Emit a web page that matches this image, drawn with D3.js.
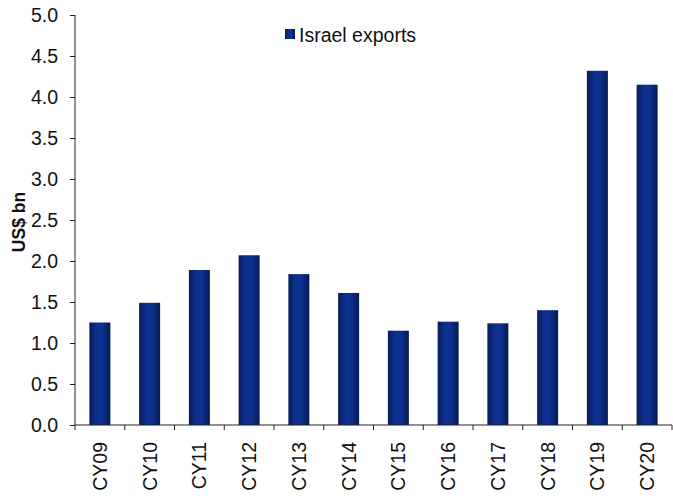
<!DOCTYPE html>
<html><head><meta charset="utf-8">
<script src="https://cdn.jsdelivr.net/npm/d3@7"></script>
<style>body{margin:0;background:#fff}svg{display:block}</style>
</head><body><svg id="c" width="673" height="498"></svg>
<script>
const categories = ["CY09","CY10","CY11","CY12","CY13","CY14","CY15","CY16","CY17","CY18","CY19","CY20"];
const exportsValues = [1.25,1.49,1.89,2.07,1.84,1.61,1.15,1.26,1.24,1.40,4.32,4.15];
const yTicks = [0,0.5,1,1.5,2,2.5,3,3.5,4,4.5,5];
const seriesName = "Israel exports";

(function(){
const svg = d3.select("#c");
const pL = 75, pR = 672, pT = 15, pB = 425;
const xb = d3.scaleBand().domain(categories).range([pL, pR]);
const y = d3.scaleLinear().domain([0,5]).range([pB, pT]);

const defs = svg.append("defs");
const g = defs.append("linearGradient").attr("id","bg").attr("x1","0%").attr("x2","100%").attr("y1","0%").attr("y2","0%");
g.append("stop").attr("offset","0%").attr("stop-color","#071c58");
g.append("stop").attr("offset","35%").attr("stop-color","#0c3190");
g.append("stop").attr("offset","60%").attr("stop-color","#0c3190");
g.append("stop").attr("offset","100%").attr("stop-color","#061a52");

svg.append("g").selectAll("rect").data(categories).join("rect")
  .attr("x", d => xb(d) + xb.bandwidth()/2 - 10.5)
  .attr("width", 21)
  .attr("y", (d,i) => y(exportsValues[i]))
  .attr("height", (d,i) => pB - y(exportsValues[i]))
  .attr("fill","url(#bg)");

const font = "Arial, 'Liberation Sans', sans-serif";
const yAxis = svg.append("g").attr("transform",`translate(${pL},0)`)
  .call(d3.axisLeft(y).tickValues(yTicks).tickFormat(d3.format(".1f")).tickSize(5).tickPadding(12));
yAxis.select(".domain").attr("stroke","#222").attr("d",`M0,${pT}V${pB}`);
yAxis.selectAll(".tick line").attr("stroke","#222");
yAxis.selectAll("text").attr("font-family",font).attr("font-size",19.5).attr("fill","#111");

const xAxis = svg.append("g").attr("transform",`translate(0,${pB})`)
  .call(d3.axisBottom(xb).tickSize(0).tickFormat(""));
xAxis.select(".domain").attr("stroke","#222").attr("d",`M${pL},0H${pR}`);
const bounds = categories.map(c => xb(c)).concat([pR]);
xAxis.selectAll("line.sep").data(bounds).join("line").attr("class","sep")
  .attr("x1",d=>d).attr("x2",d=>d).attr("y1",0).attr("y2",5).attr("stroke","#222");
xAxis.selectAll("text.lab").data(categories).join("text").attr("class","lab")
  .attr("transform", d => `translate(${xb(d)+xb.bandwidth()/2+7},17) rotate(-90)`)
  .attr("text-anchor","end")
  .attr("font-family",font).attr("font-size",19.5).attr("fill","#111")
  .text(d=>d);

svg.append("text")
  .attr("transform","translate(25,222) rotate(-90)")
  .attr("text-anchor","middle").attr("font-family",font).attr("font-size",17.5).attr("font-weight","bold").attr("fill","#111")
  .text("US$ bn");

const lg = svg.append("g");
lg.append("rect").attr("x",285).attr("y",29).attr("width",10).attr("height",10).attr("fill","url(#bg)");
lg.append("text").attr("x",299).attr("y",42).attr("font-family",font).attr("font-size",19.5).attr("fill","#111").text(seriesName);
})();
</script></body></html>
